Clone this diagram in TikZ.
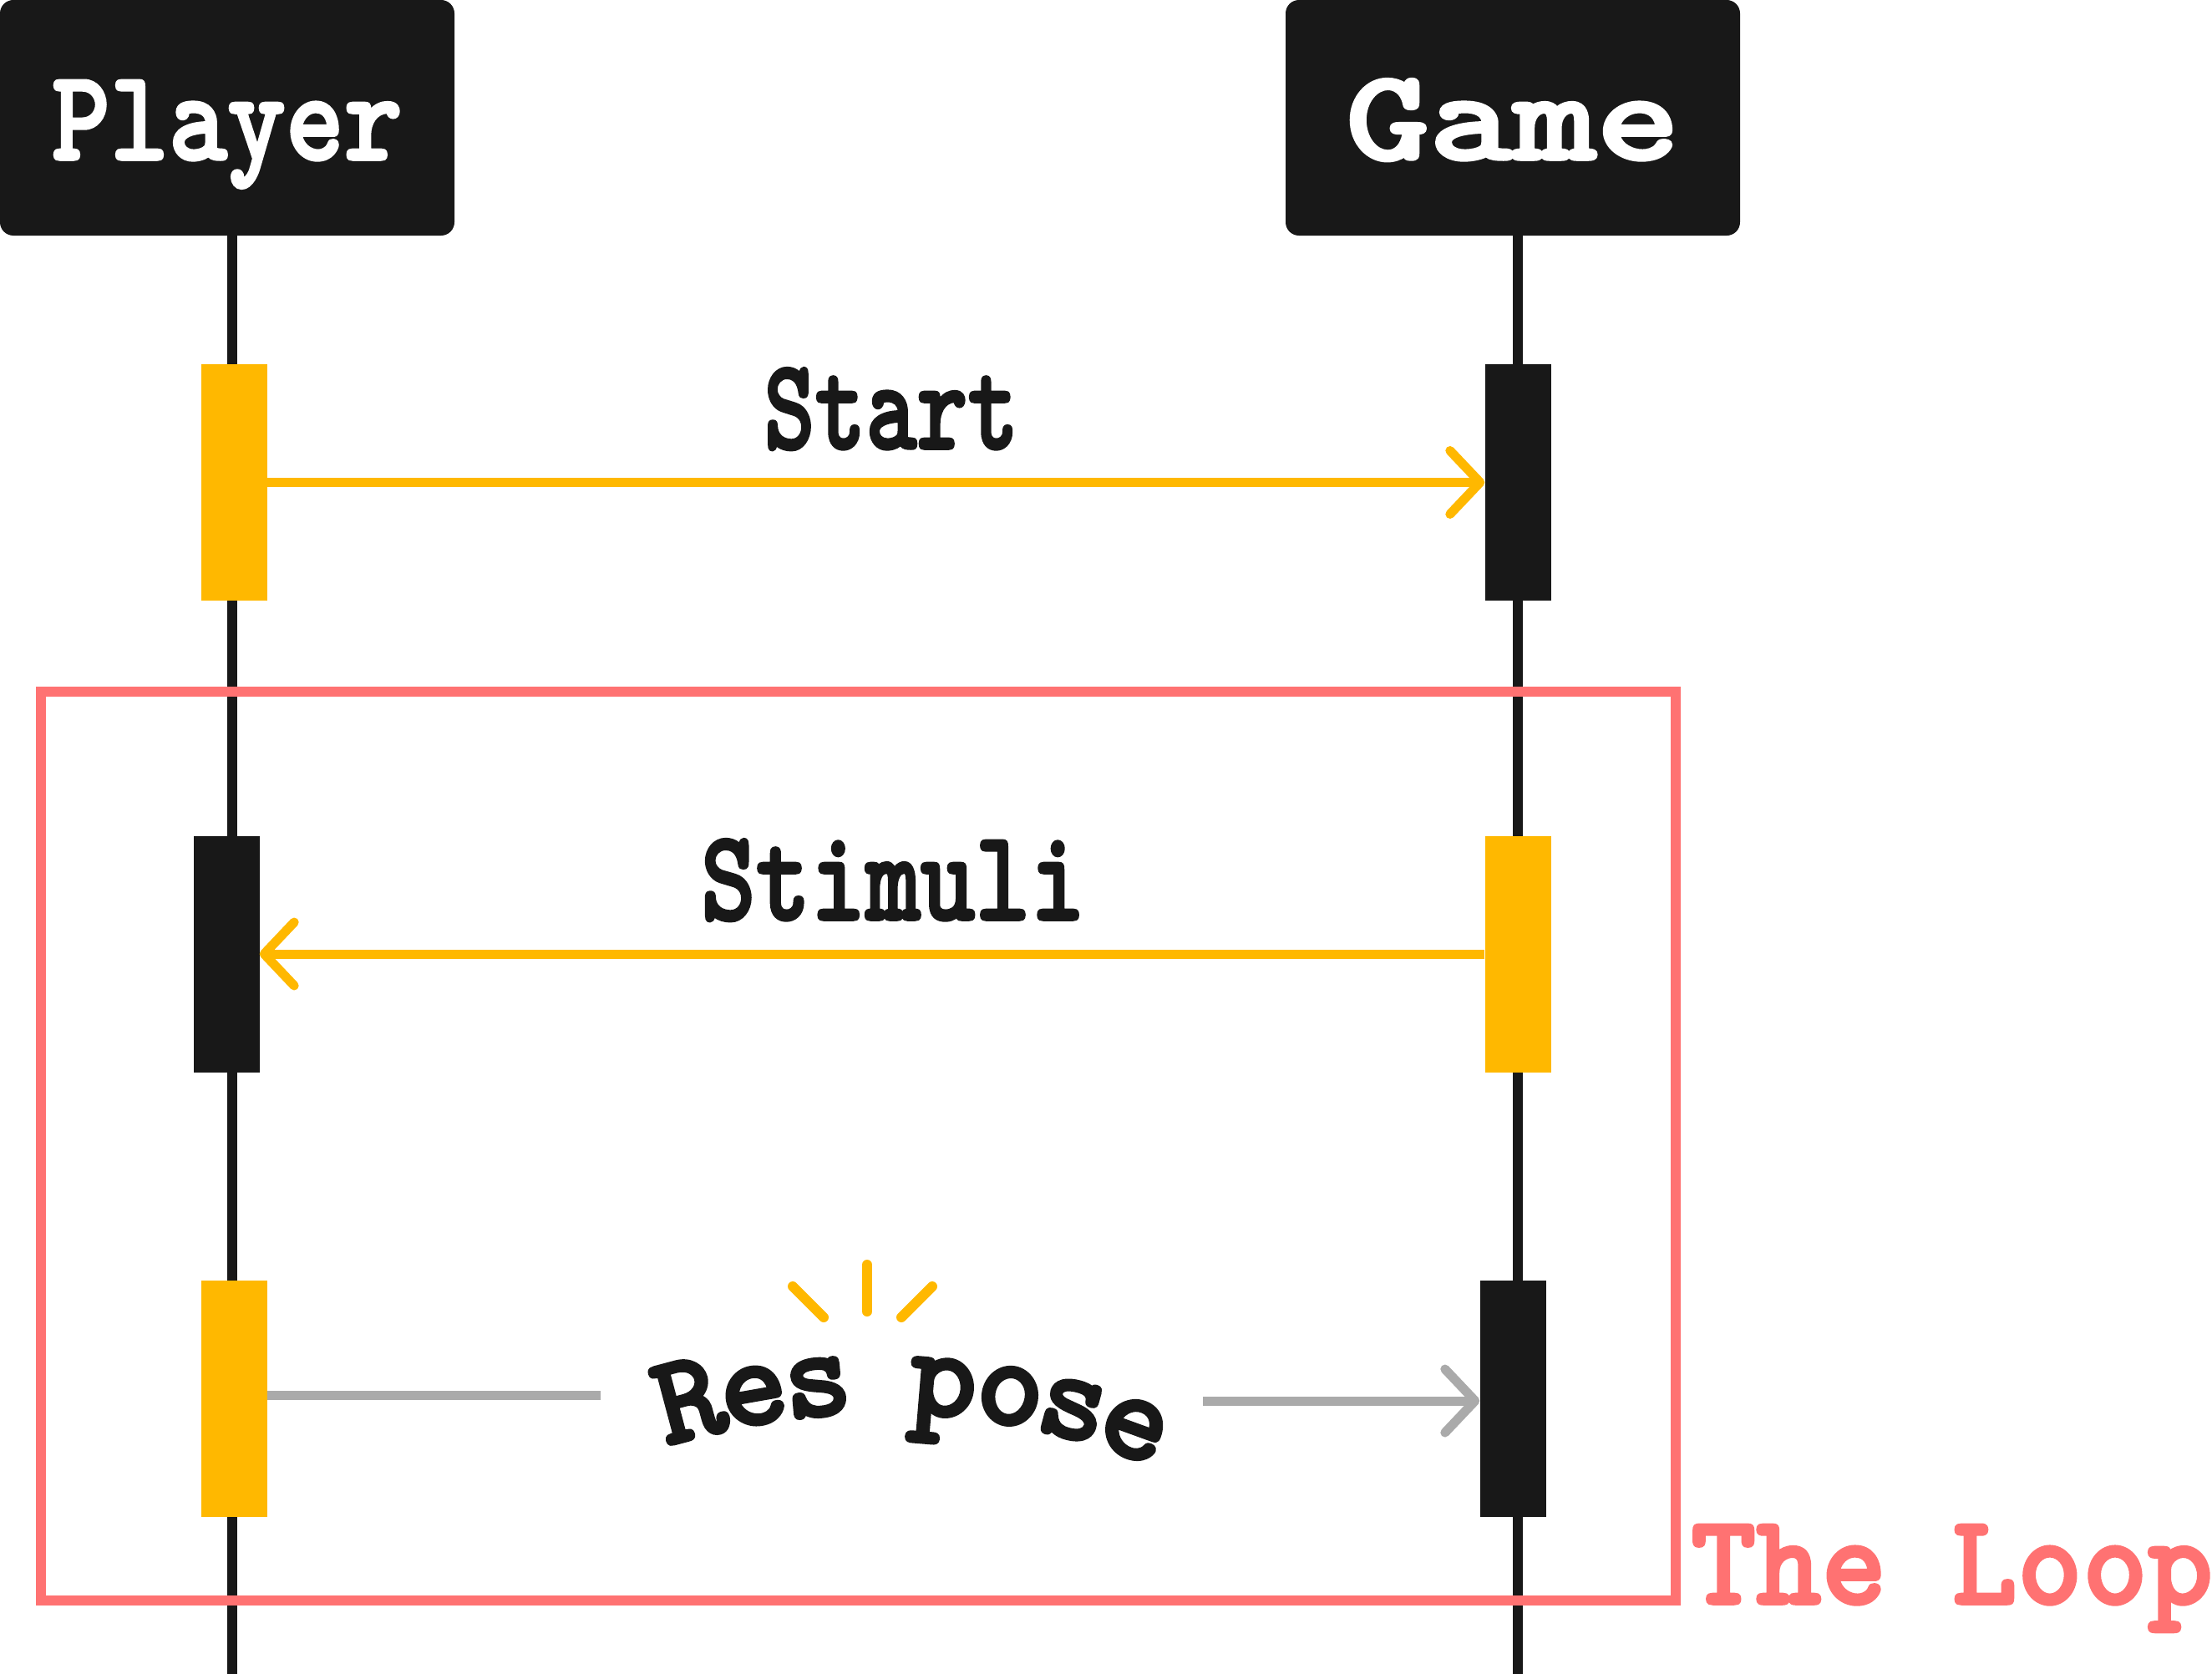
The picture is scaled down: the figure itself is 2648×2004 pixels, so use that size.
\documentclass[tikz,border=0pt]{standalone}
\usepackage{fontspec}
\usetikzlibrary{arrows.meta}
\definecolor{ink}{HTML}{181818}
\definecolor{amber}{HTML}{FFB800}
\definecolor{loopred}{HTML}{FF7272}
\definecolor{greyline}{HTML}{AAAAAA}
\newcommand\bigslab{\ttfamily\bfseries\fontsize{155}{155}\selectfont}
\newcommand\heavy[1]{\special{pdf:literal direct 2 Tr 3.5 w 1 j}#1\special{pdf:literal direct 0 Tr}}
\begin{document}
\begin{tikzpicture}[x=1pt,y=-1pt,
  headbox/.style={fill=ink, rounded corners=16pt, minimum width=544pt, minimum height=282pt,
    inner sep=0pt, text=white, font=\bigslab, text height=110pt, text depth=10pt},
  actbox/.style={minimum width=79pt, minimum height=283pt, inner sep=0pt},
  actY/.style={actbox, fill=amber},
  actB/.style={actbox, fill=ink},
  life/.style={draw=ink, line width=12pt},
  msg/.style={line width=11pt},
  tip/.tip={Straight Barb[length=36pt, width=76pt, round]},
  lbl/.style={font=\bigslab, text=ink, inner sep=0pt, anchor=base},
  resp/.style={font=\bigslab, text=ink, inner sep=0pt, anchor=base},
  burst/.style={draw=amber, line width=12pt, line cap=round},
  loopframe/.style={draw=loopred, line width=12pt, minimum width=1957pt, minimum height=1088pt, inner sep=0pt}
]
\useasboundingbox (0,0) rectangle (2648,2004);

% lifeline ends
\coordinate (pend) at (278,2004);
\coordinate (gend) at (1817,2004);

% headers
\node[headbox] (player) at (272,141) {\resizebox{420pt}{\height}{\heavy{Player}}};
\node[headbox] (game) at (1811,141) {\resizebox{400pt}{\height}{\heavy{Game}}};

% lifelines
\draw[life] (player.south -| pend) -- (pend);
\draw[life] (game.south -| gend) -- (gend);

% loop frame
\node[loopframe] (loop) at (1027.5,1372) {};
\node[font=\bigslab, text=loopred, inner sep=0pt, anchor=base west] (looplbl) at (2024,1920) {\resizebox{625pt}{\height}{\heavy{The Loop}}};

% activations
\node[actY] (pa1) at (280,577.5) {};
\node[actB] (ga1) at (1817,577.5) {};
\node[actB] (pa2) at (271,1142) {};
\node[actY] (ga2) at (1817,1142) {};
\node[actY] (pa3) at (280,1674) {};
\node[actB] (ga3) at (1811,1674) {};

% messages
\draw[msg, draw=amber, -{tip}] (pa1.east) -- (ga1.west);
\node[lbl] (startlbl) at (1067,537) {\resizebox{305pt}{\height}{\heavy{Start}}};

\draw[msg, draw=amber, -{tip}] (ga2.west) -- (pa2.east);
\node[lbl] (stimlbl) at (1069,1101) {\resizebox{460pt}{\height}{\heavy{Stimuli}}};

\coordinate (rsL) at (719,1670);
\coordinate (rsR) at (1440,1677);
\draw[msg, draw=greyline] (pa3.east |- rsL) -- (rsL);
\draw[msg, draw=greyline, -{tip}] (rsR) -- (ga3.west |- rsR);

% curved "Res pose"
\foreach \ch/\i/\nm in {R/-3/ra, e/-2/rb, s/-1/rc, p/0.95/rd, o/2/re, s/3/rf, e/4/rg} {
  \node[resp, rotate={-(\i)*4.98}] (\nm) at ({1056+851*sin((\i)*4.98)}, {2543-851*cos((\i)*4.98)}) {\heavy{\ch}};
}

% burst
\draw[burst] (1038,1514) -- (1038,1570);
\draw[burst] (949,1540) -- (986,1577);
\draw[burst] (1116,1540) -- (1079,1577);
\end{tikzpicture}
\end{document}
